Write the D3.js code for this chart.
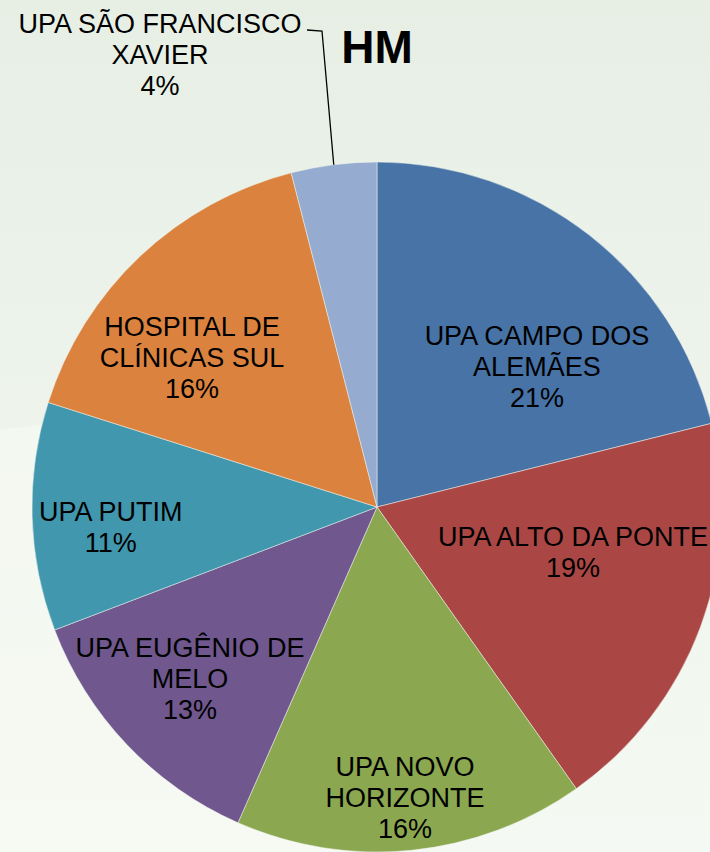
<!DOCTYPE html>
<html>
<head>
  <title>HM</title>
  <script src="https://d3js.org/d3.v7.min.js"></script>
  <style>
    body { margin: 0; }
    text { font-family: "Liberation Sans", Arial, sans-serif; }
  </style>
</head>
<body>
  <svg id="chart"></svg>

  <script>
    // data
    var categories = ["UPA CAMPO DOS ALEMÃES", "UPA ALTO DA PONTE", "UPA NOVO HORIZONTE",
                      "UPA EUGÊNIO DE MELO", "UPA PUTIM", "HOSPITAL DE CLÍNICAS SUL",
                      "UPA SÃO FRANCISCO XAVIER"];
    var values = [21.1, 19.1, 16.4, 12.6, 10.7, 16.1, 4.0];
    var labelLines = [
      ["UPA CAMPO DOS", "ALEMÃES"],
      ["UPA ALTO DA PONTE"],
      ["UPA NOVO", "HORIZONTE"],
      ["UPA EUGÊNIO DE", "MELO"],
      ["UPA PUTIM"],
      ["HOSPITAL DE", "CLÍNICAS SUL"],
      ["UPA SÃO FRANCISCO", "XAVIER"]
    ];
    var colors = ["#4773a7", "#aa4745", "#8ba74f", "#70588f", "#4197ae", "#db833e", "#95abcf"];
    // where each label sits: fraction of radius and angle (deg, clockwise from top)
    var labelRadius = [0.616, 0.583, 0.846, 0.736, 0.774, 0.69];
    var labelAngle = [48.8, 102.9, 174.5, 227.4, 265.7, 309];

    var width = 710, height = 852;
    var cx = 377, cy = 507, radius = 345;

    var svg = d3.select("#chart")
                .attr("width", width)
                .attr("height", height);

    // background
    var defs = svg.append("defs");
    var grad = defs.append("linearGradient")
                   .attr("id", "bg")
                   .attr("x1", 0).attr("y1", 0).attr("x2", 0).attr("y2", 1);
    grad.append("stop").attr("offset", "0%").attr("stop-color", "#e7efe5");
    grad.append("stop").attr("offset", "100%").attr("stop-color", "#f5f9f3");
    svg.append("rect").attr("width", width).attr("height", height).attr("fill", "url(#bg)");
    // faint lighter swoosh bottom-left
    svg.append("path")
       .attr("d", "M0,430 Q200,400 420,470 L420,852 L0,852 Z")
       .attr("fill", "#f6faf4")
       .attr("opacity", 0.6);

    var pie = d3.pie().sort(null).value(d => d);
    var arcs = pie(values);
    var arc = d3.arc().innerRadius(0).outerRadius(radius);

    var g = svg.append("g").attr("transform", "translate(" + cx + "," + cy + ")");

    g.selectAll("path.slice")
     .data(arcs)
     .enter().append("path")
     .attr("class", "slice")
     .attr("d", arc)
     .attr("fill", (d, i) => colors[i])
     .attr("stroke", "#f0f4ee")
     .attr("stroke-width", 0.5);

    var fontSize = 27, lineH = 31;

    arcs.forEach(function(d, i) {
      var lines = labelLines[i].concat([Math.round(values[i]) + "%"]);
      var pos;
      if (i === 6) {
        pos = [160 - cx, 24 - cy];
      } else {
        var a = labelAngle[i] * Math.PI / 180, r = labelRadius[i] * radius;
        pos = [Math.sin(a) * r, -Math.cos(a) * r - (lines.length - 1) * lineH / 2];
      }
      var t = g.append("text")
               .attr("text-anchor", "middle")
               .attr("font-size", fontSize)
               .attr("fill", "#000");
      lines.forEach(function(l, k) {
        t.append("tspan")
         .attr("x", pos[0])
         .attr("y", pos[1] + k * lineH)
         .attr("dy", "0.35em")
         .text(l);
      });
    });

    // leader line for the small slice
    var small = arcs[6];
    var mid = (small.startAngle + small.endAngle) / 2;
    var ex = Math.sin(mid) * radius, ey = -Math.cos(mid) * radius;
    g.append("path")
     .attr("d", "M" + (307 - cx) + "," + (30 - cy) + "L" + (322 - cx) + "," + (31 - cy) + "L" + ex + "," + ey)
     .attr("fill", "none")
     .attr("stroke", "#000")
     .attr("stroke-width", 1.3);

    // title
    svg.append("text")
       .attr("x", 377)
       .attr("y", 63)
       .attr("text-anchor", "middle")
       .attr("font-size", 46)
       .attr("font-weight", "bold")
       .text("HM");
  </script>
</body>
</html>
